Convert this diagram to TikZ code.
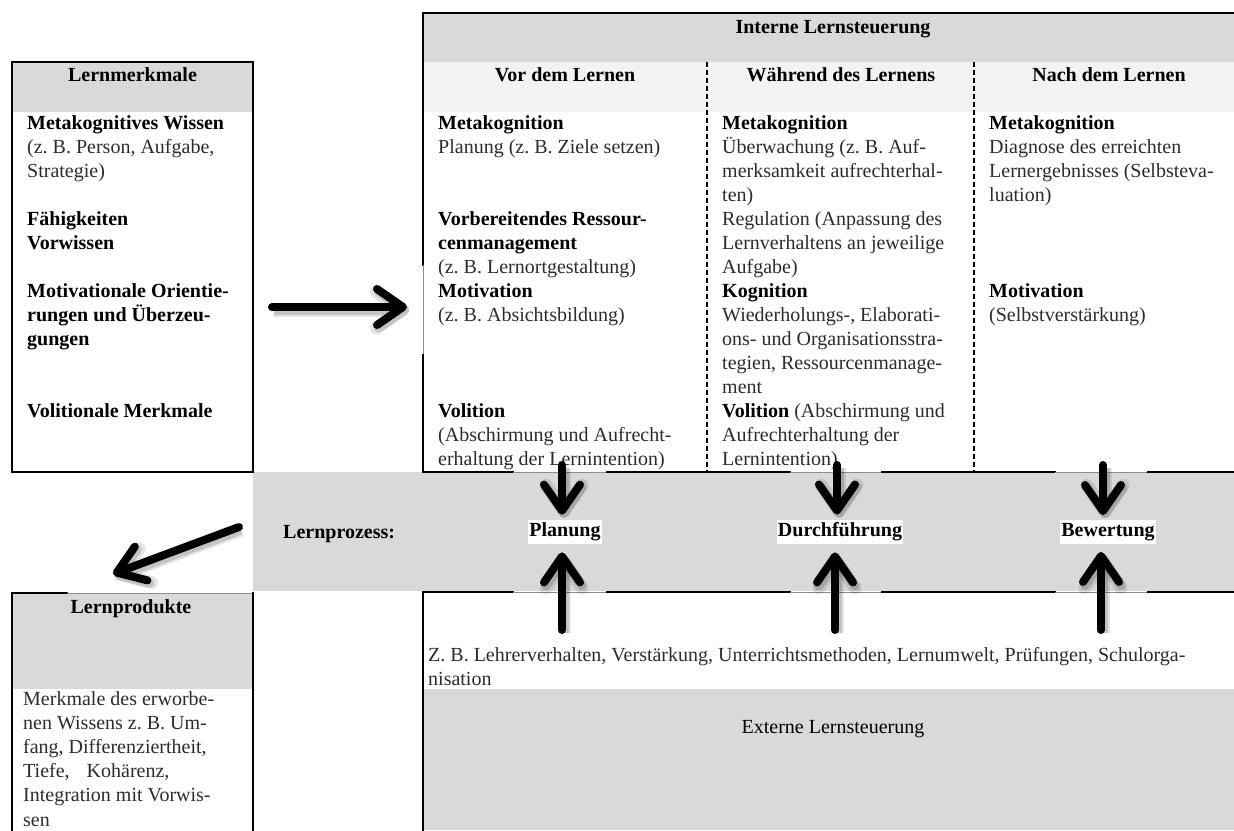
\documentclass[tikz,border=0pt]{standalone}
\usepackage{fontspec}
\setmainfont{Liberation Serif}
\usetikzlibrary{arrows.meta}
\frenchspacing
\definecolor{hdr}{HTML}{D9D9D9}
\definecolor{sub}{HTML}{F2F2F2}
\definecolor{bodytext}{HTML}{2B2B2B}
\newcommand\stack[1]{\begin{tabular}[t]{@{}l@{}}#1\end{tabular}}
\newcommand\hb[1]{\textbf{\color{black}#1}}

\begin{document}
\begin{tikzpicture}[x=1pt,y=-1pt,
  txt/.style={font=\fontsize{20}{24}\selectfont, inner sep=0pt, anchor=base west, text=bodytext},
  hd/.style={font=\fontsize{20}{24}\selectfont\bfseries, inner sep=0pt, anchor=base, text=black},
  frame/.style={line width=2.2pt, line cap=rect},
  faint/.style={line width=0.9pt, draw=black!45},
  divider/.style={line width=2.2pt, dash pattern=on 5pt off 3pt},
  tag/.style={font=\fontsize{20}{24}\selectfont\bfseries, fill=white, inner xsep=1pt, inner ysep=3pt, text=black},
  bigarrow/.style={line width=8pt, line cap=round,
    -{Straight Barb[length=26pt,width=36pt,round]},
    preaction={draw=black, opacity=0.10, line width=13pt, transform canvas={xshift=2pt,yshift=-3pt}},
    preaction={draw=black, opacity=0.15, line width=9pt, transform canvas={xshift=2pt,yshift=-3pt}}}
]
\useasboundingbox (0,0) rectangle (1234,830);

% shaded areas
\fill[hdr] (12,62) rectangle (253,112);
\fill[hdr] (423,13) rectangle (1234,62);
\fill[sub] (423,62) rectangle (1234,112);
\fill[hdr] (253,472) rectangle (1234,591);
\fill[hdr] (12,593) rectangle (253,689);
\fill[hdr] (423,689) rectangle (1234,830);

% Lernmerkmale box
\draw[frame] (12,62) rectangle (253,472);

% Interne Lernsteuerung box
\draw[frame] (1234,13) -- (423,13) -- (423,265);
\draw[faint] (423,265) -- (423,355);
\draw[frame] (423,355) -- (423,472) -- (513,472);
\draw[faint] (513,472) -- (607,472);
\draw[frame] (607,472) -- (790,472);
\draw[faint] (790,472) -- (882,472);
\draw[frame] (882,472) -- (1055,472);
\draw[faint] (1055,472) -- (1148,472);
\draw[frame] (1148,472) -- (1234,472);
\draw[divider] (707,62) -- (707,472);
\draw[divider] (974,62) -- (974,472);

% Externe Lernsteuerung box
\draw[frame] (423,830) -- (423,592) -- (513,592);
\draw[faint] (513,592) -- (607,592);
\draw[frame] (607,592) -- (790,592);
\draw[faint] (790,592) -- (882,592);
\draw[frame] (882,592) -- (1055,592);
\draw[faint] (1055,592) -- (1148,592);
\draw[frame] (1148,592) -- (1234,592);

% Lernprodukte box
\draw[frame] (12,830) -- (12,593) -- (67,593);
\draw[faint] (67,593) -- (253,593);
\draw[frame] (253,593) -- (253,830);

% headings
\node[hd] (lmk) at (132.5,81) {Lernmerkmale};
\node[hd] (ils) at (833,33) {Interne Lernsteuerung};
\node[hd] (vor) at (565,81) {Vor dem Lernen};
\node[hd] (waehrend) at (841,81) {Während des Lernens};
\node[hd] (nach) at (1109,81) {Nach dem Lernen};
\node[hd] (lpr) at (131,613) {Lernprodukte};
\node[hd, font=\fontsize{20}{24}\selectfont] (els) at (833,733) {Externe Lernsteuerung};

% Lernmerkmale
\node[txt] (mw) at (27,129.5) {\stack{\hb{Metakognitives Wissen}\\(z. B. Person, Aufgabe,\\Strategie)}};
\node[txt] (fv) at (27,225.5) {\stack{\hb{Fähigkeiten}\\\hb{Vorwissen}}};
\node[txt] (mo) at (27,297.5) {\stack{\hb{Motivationale Orientie-}\\\hb{rungen und Überzeu-}\\\hb{gungen}}};
\node[txt] (vm) at (27,417.5) {\hb{Volitionale Merkmale}};

% Vor dem Lernen
\node[txt] (c1m) at (438,129.5) {\stack{\hb{Metakognition}\\Planung (z. B. Ziele setzen)}};
\node[txt] (c1r) at (438,225.5) {\stack{\hb{Vorbereitendes Ressour-}\\\hb{cenmanagement}\\(z. B. Lernortgestaltung)}};
\node[txt] (c1mo) at (438,297.5) {\stack{\hb{Motivation}\\(z. B. Absichtsbildung)}};
\node[txt] (c1v) at (438,417.5) {\stack{\hb{Volition}\\(Abschirmung und Aufrecht-\\erhaltung der Lernintention)}};

% Während des Lernens
\node[txt] (c2m) at (722,129.5) {\stack{\hb{Metakognition}\\Überwachung (z. B. Auf-\\merksamkeit aufrechterhal-\\ten)\\Regulation (Anpassung des\\Lernverhaltens an jeweilige\\Aufgabe)}};
\node[txt] (c2k) at (722,297.5) {\stack{\hb{Kognition}\\Wiederholungs-, Elaborati-\\ons- und Organisationsstra-\\tegien, Ressourcenmanage-\\ment}};
\node[txt] (c2v) at (722,417.5) {\stack{\hb{Volition} (Abschirmung und\\Aufrechterhaltung der\\Lernintention)}};

% Nach dem Lernen
\node[txt] (c3m) at (989,129.5) {\stack{\hb{Metakognition}\\Diagnose des erreichten\\Lernergebnisses (Selbsteva-\\luation)}};
\node[txt] (c3mo) at (989,297.5) {\stack{\hb{Motivation}\\(Selbstverstärkung)}};

% Lernprodukte
\node[txt, font=\fontsize{20}{24.2}\selectfont] (lpt) at (23,705) {\stack{Merkmale des erworbe-\\nen Wissens z. B. Um-\\fang, Differenziertheit,\\Tiefe,\hspace*{17pt}Kohärenz,\\Integration mit Vorwis-\\sen}};

% external influences
\node[txt] (zb) at (428,661) {\stack{Z. B. Lehrerverhalten, Verstärkung, Unterrichtsmethoden, Lernumwelt, Prüfungen, Schulorga-\\nisation}};

% Lernprozess
\node[txt, font=\fontsize{20}{24}\selectfont\bfseries, text=black] (lp) at (283,538.5) {Lernprozess:};
\node[tag] (plan) at (565,532) {Planung};
\node[tag] (durch) at (840,532) {Durchführung};
\node[tag] (bew) at (1108,532) {Bewertung};

% arrows
\coordinate (rA) at (272,307);
\coordinate (rB) at (407,307);
\draw[bigarrow] (rA) -- (rB);

\coordinate (dA) at (239,527);
\coordinate (dB) at (113,574);
\draw[bigarrow] (dA) -- (dB);

\coordinate (p1) at (562,465);
\coordinate (p2) at (562,630);
\draw[bigarrow, shorten >=5pt] (p1) -- (p1 |- plan.north);
\draw[bigarrow, shorten >=8pt] (p2) -- (p2 |- plan.south);

\coordinate (d1) at (837,465);
\coordinate (d2) at (835,630);
\draw[bigarrow, shorten >=5pt] (d1) -- (d1 |- durch.north);
\draw[bigarrow, shorten >=8pt] (d2) -- (d2 |- durch.south);

\coordinate (b1) at (1103,465);
\coordinate (b2) at (1101,630);
\draw[bigarrow, shorten >=5pt] (b1) -- (b1 |- bew.north);
\draw[bigarrow, shorten >=8pt] (b2) -- (b2 |- bew.south);
\end{tikzpicture}
\end{document}
